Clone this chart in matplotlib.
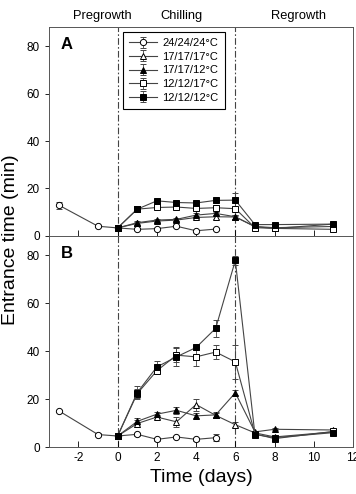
import matplotlib.pyplot as plt

plt.rcParams['font.family'] = ['Liberation Sans', 'DejaVu Sans']
plt.rcParams['axes.unicode_minus'] = False

labels = ['24/24/24°C', '17/17/17°C', '17/17/12°C', '12/12/17°C', '12/12/12°C']
markers = ['o', '^', '^', 's', 's']
fills = ['white', 'white', 'black', 'white', 'black']

days_ctrl = [-3, -1, 0, 1, 2, 3, 4, 5]
days_chill = [0, 1, 2, 3, 4, 5, 6, 7, 8, 11]

# panel A
a_ctrl = [13.0, 4.1, 3.4, 2.8, 3.1, 4.1, 2.2, 2.9]
a_ctrl_err = [1.5, 0.4, 0.4, 0.4, 0.4, 0.4, 0.4, 0.4]
a_17_17_17 = [3.4, 5.3, 6.3, 6.7, 7.8, 8.1, 8.0, 4.0, 3.5, 4.0]
a_17_17_12 = [3.4, 5.6, 6.7, 7.0, 8.8, 9.5, 8.1, 3.9, 3.2, 5.0]
a_12_12_17 = [3.4, 11.3, 12.0, 12.2, 11.6, 11.9, 11.5, 3.5, 3.2, 2.8]
a_12_12_12 = [3.4, 11.3, 14.8, 14.1, 13.9, 15.0, 15.1, 4.8, 4.8, 5.0]
a_err_small = [0.4, 0.6, 0.6, 0.6, 0.8, 0.8, 0.8, 0.5, 0.5, 0.5]
a_err_sq = [0.4, 0.8, 0.8, 0.8, 0.8, 1.0, 3.0, 0.5, 0.5, 0.5]

# panel B
b_ctrl = [15.1, 5.2, 4.6, 5.3, 3.2, 4.2, 3.2, 3.9]
b_ctrl_err = [0.5, 0.5, 0.5, 0.5, 0.5, 0.5, 0.5, 1.5]
b_17_17_17 = [4.6, 9.8, 12.5, 10.5, 17.7, 13.2, 9.3, 5.9, 4.2, 6.3]
b_17_17_17_err = [0.5, 1.5, 1.0, 2.0, 2.5, 1.0, 1.0, 0.5, 0.5, 0.5]
b_17_17_12 = [4.6, 10.7, 13.7, 15.3, 13.0, 13.4, 22.6, 6.3, 7.4, 7.1]
b_17_17_12_err = [0.5, 1.5, 1.0, 1.5, 1.0, 1.0, 1.0, 0.5, 0.5, 0.5]
b_12_12_17 = [4.6, 22.3, 31.8, 38.3, 37.6, 39.6, 35.5, 5.5, 3.5, 6.5]
b_12_12_17_err = [0.5, 2.0, 1.5, 3.0, 4.0, 3.0, 7.0, 0.5, 0.5, 0.5]
b_12_12_12 = [4.6, 22.7, 33.4, 37.6, 41.5, 49.5, 77.8, 5.2, 3.9, 6.0]
b_12_12_12_err = [0.5, 2.7, 2.5, 4.0, 1.0, 3.5, 2.0, 0.5, 0.5, 0.5]

panels = [
    ('A', [a_ctrl, a_17_17_17, a_17_17_12, a_12_12_17, a_12_12_12],
     [a_ctrl_err, a_err_small, a_err_small, a_err_sq, a_err_sq]),
    ('B', [b_ctrl, b_17_17_17, b_17_17_12, b_12_12_17, b_12_12_12],
     [b_ctrl_err, b_17_17_17_err, b_17_17_12_err, b_12_12_17_err, b_12_12_12_err]),
]

fig = plt.figure(figsize=(3.56, 4.94), dpi=100)
ax_a = fig.add_axes([0.1376, 0.5223, 0.854, 0.4230])
ax_b = fig.add_axes([0.1376, 0.0951, 0.854, 0.4272])

for ax, (name, series, errs) in zip([ax_a, ax_b], panels):
    for i in range(5):
        x = days_ctrl if i == 0 else days_chill
        ax.errorbar(x, series[i], yerr=errs[i], color='#444444', lw=0.8,
                    marker=markers[i], mfc=fills[i], mec='black', mew=0.7,
                    ms=4.5 if markers[i] != 's' else 4, capsize=2,
                    elinewidth=0.6, ecolor='#444444', label=labels[i])
    ax.axvline(0, color='#444444', lw=0.8, dashes=(6, 2, 1.5, 2), zorder=0)
    ax.axvline(6, color='#444444', lw=0.8, dashes=(6, 2, 1.5, 2), zorder=0)
    ax.set_xlim(-3.5, 12)
    ax.set_ylim(0, 88)
    ax.set_yticks([0, 20, 40, 60, 80])
    ax.set_xticks([-2, 0, 2, 4, 6, 8, 10, 12])
    ax.tick_params(axis='x', direction='in', length=4, width=0.6, labelsize=8.5)
    ax.tick_params(axis='y', direction='out', length=3, width=0.6, labelsize=8.5)
    for s in ax.spines.values():
        s.set_linewidth(0.7)
        s.set_color('#555555')
    ax.text(-2.9, 80.5, name, fontsize=12, fontweight='bold', va='center')

ax_a.tick_params(axis='x', labelbottom=False)

ax_a.text(0.175, 1.055, 'Pregrowth', transform=ax_a.transAxes, ha='center', va='center', fontsize=9.3)
ax_a.text(0.435, 1.055, 'Chilling', transform=ax_a.transAxes, ha='center', va='center', fontsize=9.3)
ax_a.text(0.82, 1.055, 'Regrowth', transform=ax_a.transAxes, ha='center', va='center', fontsize=9.3)

leg = ax_a.legend(loc='upper left', bbox_to_anchor=(0.243, 0.976), borderaxespad=0,
                  fontsize=8, labelspacing=0.33, handlelength=2.5, handletextpad=0.5,
                  borderpad=0.55, fancybox=False, edgecolor='black', framealpha=1)
leg.get_frame().set_linewidth(0.8)

ax_b.set_xlabel('Time (days)', fontsize=14)
fig.text(0.03, 0.515, 'Entrance time (min)', rotation=90, ha='center', va='center', fontsize=14)

plt.savefig('out.png', dpi=100)
